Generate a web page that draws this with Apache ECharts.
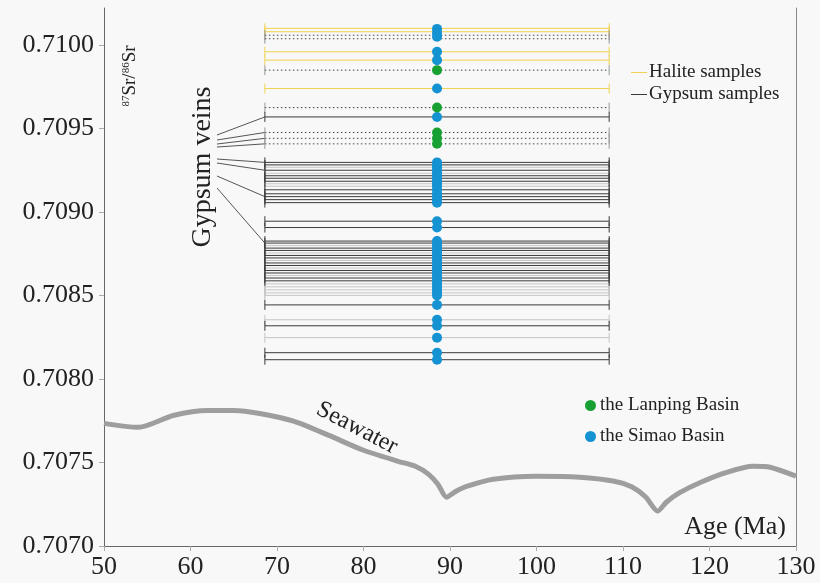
<!DOCTYPE html>
<html>
<head>
<meta charset="utf-8">
<script src="https://cdn.jsdelivr.net/npm/echarts@6/dist/echarts.min.js"></script>
<style>
html,body{margin:0;padding:0;background:#f8f8f8;}
#c{width:820px;height:583px;}
</style>
</head>
<body>
<div id="c"></div>
<script>
// ---- data ----
const xTicks = [50, 60, 70, 80, 90, 100, 110, 120, 130];
const yTicks = [0.7070, 0.7075, 0.7080, 0.7085, 0.7090, 0.7095, 0.7100];
const sampleAge = 88.5;
const lineAgeRange = [68.6, 108.4];

const haliteLines = [0.710098, 0.710078, 0.709958, 0.709908, 0.709738];
const gypsumDottedLines = [0.710057, 0.710036, 0.709848, 0.709624, 0.709475, 0.709440, 0.709407];
const gypsumDarkLines = [0.709568, 0.709296, 0.709281, 0.709249, 0.709216, 0.709201, 0.709183,
  0.709132, 0.709108, 0.709091, 0.709073, 0.709055, 0.708944, 0.708906, 0.708825, 0.708813,
  0.708783, 0.708769, 0.708739, 0.708724, 0.708694, 0.708679, 0.708649, 0.708634, 0.708604,
  0.708587, 0.708443, 0.708318, 0.708157, 0.708115];
const gypsumLightLines = [0.709267, 0.709231, 0.709168, 0.709153, 0.708798, 0.708754, 0.708709,
  0.708664, 0.708619, 0.708569, 0.708551, 0.708533, 0.708515, 0.708500, 0.708354, 0.708247];

const lanpingPoints = [0.709848, 0.709624, 0.709475, 0.709440, 0.709407];
const simaoPoints = [0.710095, 0.710071, 0.710048, 0.709958, 0.709908, 0.709738, 0.709568,
  0.709296, 0.709281, 0.709267, 0.709249, 0.709231, 0.709216, 0.709201, 0.709183, 0.709168,
  0.709153, 0.709132, 0.709108, 0.709091, 0.709073, 0.709055,
  0.708944, 0.708906,
  0.708825, 0.708813, 0.708798, 0.708783, 0.708769, 0.708754, 0.708739, 0.708724, 0.708709,
  0.708694, 0.708679, 0.708664, 0.708649, 0.708634, 0.708619, 0.708604, 0.708587, 0.708569,
  0.708551, 0.708533, 0.708515, 0.708500,
  0.708443, 0.708354, 0.708318, 0.708247, 0.708157, 0.708115];

const seawaterAge = [50, 54, 58, 62, 65, 68, 72, 76, 80, 84, 86, 87.5, 88.6, 89.6, 90.6, 92, 95, 100, 105, 109, 111, 112.6, 114, 115, 116.5, 119, 122, 125, 127, 130];
const seawaterSr = [0.707734, 0.707710, 0.707781, 0.707811, 0.707811, 0.707793, 0.707746, 0.707662, 0.707573, 0.707507, 0.707477, 0.707430, 0.707370, 0.707292, 0.707325, 0.707358, 0.707400, 0.707418, 0.707412, 0.707388, 0.707355, 0.707295, 0.707209, 0.707262, 0.707318, 0.707382, 0.707441, 0.707477, 0.707471, 0.707418];

// leader line targets (Gypsum veins)
const leaderTargets = [0.709568, 0.709475, 0.709440, 0.709407, 0.709296, 0.709249, 0.709091, 0.708813];
const leaderStarts = [135, 140, 144, 147, 159, 163, 176, 188];

// ---- chart ----
const FONT = "'Liberation Serif','Times New Roman',serif";
const chart = echarts.init(document.getElementById('c'), null, {renderer: 'canvas'});

function lineRenderer(color, dash) {
  return function (params, api) {
    const v = api.value(1);
    const p1 = api.coord([lineAgeRange[0], v]);
    const p2 = api.coord([lineAgeRange[1], v]);
    const capStyle = {stroke: dash ? '#999' : color, lineWidth: 1};
    return {
      type: 'group',
      children: [
        {type: 'line', shape: {x1: p1[0], y1: p1[1], x2: p2[0], y2: p2[1]},
          style: {stroke: color, lineWidth: 1, lineDash: dash ? [1.5, 2.5] : null}},
        {type: 'line', shape: {x1: p1[0], y1: p1[1] - 5, x2: p1[0], y2: p1[1] + 5}, style: capStyle},
        {type: 'line', shape: {x1: p2[0], y1: p2[1] - 5, x2: p2[0], y2: p2[1] + 5}, style: capStyle}
      ]
    };
  };
}

function linesSeries(name, arr, color, dash, z) {
  return {
    name: name, type: 'custom', coordinateSystem: 'cartesian2d',
    renderItem: lineRenderer(color, dash),
    data: arr.map(v => [lineAgeRange[0], v]),
    encode: {x: 0, y: 1},
    itemStyle: {color: color},
    z: z, silent: true
  };
}

const option = {
  backgroundColor: '#f8f8f8',
  animation: false,
  grid: {left: 104, right: 24, top: 8, bottom: 37},
  legend: [
    {
      data: ['Halite samples', 'Gypsum samples'],
      orient: 'vertical', left: 626, top: 58, itemGap: 3,
      icon: 'rect', itemWidth: 16, itemHeight: 1,
      textStyle: {fontFamily: FONT, fontSize: 19, color: '#222', padding: [0, 0, 0, -3]},
      selectedMode: false
    },
    {
      data: ['the Lanping Basin', 'the Simao Basin'],
      orient: 'vertical', left: 580, top: 391, itemGap: 12,
      icon: 'circle', itemWidth: 11, itemHeight: 11,
      textStyle: {fontFamily: FONT, fontSize: 19, color: '#222', padding: [0, 0, 0, -1]},
      selectedMode: false
    }
  ],
  xAxis: {
    type: 'value', min: 50, max: 130, interval: 10,
    axisLine: {show: true, lineStyle: {color: '#666', width: 1}},
    axisTick: {show: true, length: 5, lineStyle: {color: '#aaa'}, customValues: xTicks},
    axisLabel: {fontFamily: FONT, fontSize: 26, color: '#222', margin: 8, customValues: xTicks},
    splitLine: {show: false}
  },
  yAxis: [
    {
      type: 'value', min: 0.7070, max: 0.71022,
      axisLine: {show: true, lineStyle: {color: '#666', width: 1}},
      axisTick: {show: true, length: 5, lineStyle: {color: '#aaa'}, customValues: yTicks},
      axisLabel: {fontFamily: FONT, fontSize: 26, color: '#222', margin: 10,
        customValues: yTicks, formatter: v => v.toFixed(4)},
      splitLine: {show: false}
    },
    {
      type: 'value', min: 0.7070, max: 0.71022, position: 'right',
      axisLine: {show: true, lineStyle: {color: '#888', width: 1}},
      axisTick: {show: false}, axisLabel: {show: false}, splitLine: {show: false}
    }
  ],
  series: [
    {
      name: 'Seawater', type: 'line', smooth: 0.25, symbol: 'none',
      data: seawaterAge.map((a, i) => [a, seawaterSr[i]]),
      lineStyle: {color: '#9e9e9e', width: 5}, z: 2, silent: true
    },
    linesSeries('Halite samples', haliteLines, '#f0d150', false, 3),
    linesSeries('Gypsum samples', gypsumDarkLines, '#3a3a3a', false, 4),
    linesSeries('Gypsum samples', gypsumLightLines, '#c4c4c4', false, 3),
    linesSeries('Gypsum samples', gypsumDottedLines, '#444444', true, 3),
    {
      name: 'the Lanping Basin', type: 'scatter', symbol: 'circle', symbolSize: 10,
      data: lanpingPoints.map(v => [sampleAge, v]),
      itemStyle: {color: '#18a033', opacity: 1}, z: 10
    },
    {
      name: 'the Simao Basin', type: 'scatter', symbol: 'circle', symbolSize: 10,
      data: simaoPoints.map(v => [sampleAge, v]),
      itemStyle: {color: '#1592d2', opacity: 1}, z: 9
    }
  ]
};
chart.setOption(option);

// annotations
const graphics = [
  {
    type: 'text', x: 130, y: 76, rotation: Math.PI / 2,
    style: {
      text: '{s|87}{n|Sr/}{s|86}{n|Sr}',
      align: 'center', verticalAlign: 'middle',
      rich: {
        s: {fontFamily: FONT, fontSize: 11, fill: '#222', verticalAlign: 'top', padding: [0, 0, 8, 0]},
        n: {fontFamily: FONT, fontSize: 19, fill: '#222'}
      }
    }
  },
  {
    type: 'text', x: 203, y: 167, rotation: Math.PI / 2,
    style: {text: 'Gypsum veins', fontFamily: FONT, fontSize: 28, fill: '#222',
      align: 'center', verticalAlign: 'middle'}
  },
  {
    type: 'text', x: 357, y: 428, rotation: -0.48,
    style: {text: 'Seawater', fontFamily: FONT, fontSize: 24, fill: '#222',
      align: 'center', verticalAlign: 'middle'}
  },
  {
    type: 'text', x: 786, y: 527,
    style: {text: 'Age (Ma)', fontFamily: FONT, fontSize: 26, fill: '#222',
      align: 'right', verticalAlign: 'middle'}
  }
];
leaderTargets.forEach((v, i) => {
  const p = chart.convertToPixel({gridIndex: 0}, [lineAgeRange[0], v]);
  graphics.push({
    type: 'line', silent: true,
    shape: {x1: 217, y1: leaderStarts[i], x2: p[0], y2: p[1]},
    style: {stroke: '#555', lineWidth: 1}
  });
});
chart.setOption({graphic: graphics});
</script>
</body>
</html>
